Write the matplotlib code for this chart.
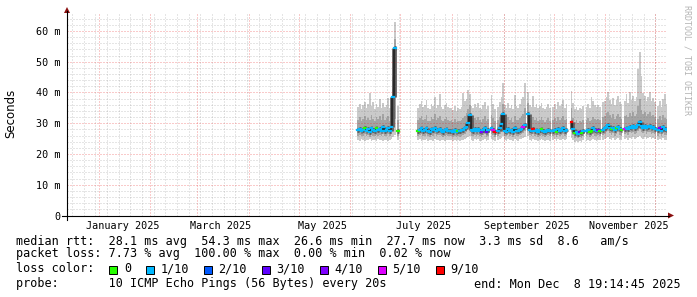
import numpy as np
import pandas as pd
import matplotlib
matplotlib.use("Agg")
import matplotlib.pyplot as plt
import matplotlib.dates as mdates
from matplotlib.collections import LineCollection
from matplotlib.lines import Line2D
from matplotlib.patches import Polygon, Rectangle

# one sample per day from first_day on, None = no data
first_day = "2025-06-06"
end_time = "2025-12-08 19:14:45"
span_days = 360

rtt_median = [
    # jun 6-30
    27.8, 28.2, 27.5, 27.9, 28.4, 27.6, 28.0, 27.3, 28.6, 27.9, 27.4, 28.3, 27.7,
    28.1, 27.5, 28.8, 27.6, 27.9, 28.5, 27.4, 28.9, 38.5, 54.3, None, 27.6,
    # jul
    None, None, None, None, None, None, None, None, None, None, None,
    27.5, 27.9, 28.3, 27.6, 27.8, 28.4, 27.5, 27.2, 28.0, 27.7, 28.5, 27.4, 27.9,
    28.2, 27.6, 27.3, 27.8, 28.1, 27.5, 27.4,
    # aug
    27.6, 27.3, 27.8, 27.2, 27.5, 27.4, 27.7, 27.9, 28.3, 28.9, 30.2, 32.6, 27.8,
    27.4, 28.0, 27.6, 28.2, 27.5, 27.1, 27.9, 28.4, 27.3, 27.8, None, 28.6, 27.9,
    27.2, None, 27.6, 28.3, 29.6,
    # sep
    33.0, 27.6, 27.3, 28.0, 27.5, 27.8, 27.2, 28.3, 27.6, 27.4, 27.9, 28.2, 28.8,
    29.5, None, 33.1, 27.8, 27.4, 28.1, 27.6, 27.9, 27.3, 27.7, 28.0, 27.5, 27.2,
    27.6, 27.9, 27.4, None,
    # oct
    27.5, 27.8, 27.3, 28.1, 27.6, 27.9, 28.4, 27.5, 27.8, None, None, 30.5, 28.0,
    26.9, 27.3, 26.6, 27.2, 26.9, 27.5, None, 27.4, 27.8, 27.2, 27.6, 28.3, 27.7,
    27.4, 27.9, 27.5, None, 27.8,
    # nov
    28.4, 28.9, 29.3, 28.5, 28.0, 28.6, 27.9, 28.3, 28.8, 28.1, 27.7, None, 28.2,
    28.6, 28.0, 28.9, 28.4, 29.1, 28.3, 28.7, 29.4, 30.3, 29.0, 28.6, 29.2, 28.4,
    28.8, 29.0, 28.3, 28.7,
    # dec 1-8
    28.2, None, 27.8, 28.4, 27.6, 28.9, 28.1, 27.7,
]

rtt_min = [
    24.6, 24.3, 24.8, 24.5, 24.2, 24.7, 24.4, 24.9, 24.3, 24.6, 24.5, 24.2, 24.8,
    24.4, 24.6, 24.3, 24.7, 24.5, 24.2, 24.6, 24.8, 25.4, 26.1, None, 24.5,
    None, None, None, None, None, None, None, None, None, None, None,
    24.5, 24.8, 24.3, 24.6, 24.4, 24.9, 24.2, 24.5, 24.7, 24.3, 24.8, 24.4, 24.6,
    24.2, 24.5, 24.7, 24.3, 24.6, 24.4, 24.5,
    24.4, 24.2, 24.6, 24.1, 24.5, 24.3, 24.6, 24.7, 24.9, 25.1, 25.4, 25.9, 24.6,
    24.3, 24.8, 24.4, 24.9, 24.3, 24.1, 24.7, 24.9, 24.2, 24.6, None, 25.0, 24.7,
    24.2, None, 24.5, 24.9, 25.3,
    25.9, 24.6, 24.3, 24.9, 24.4, 24.7, 24.2, 25.0, 24.5, 24.3, 24.8, 24.9, 25.1,
    25.4, None, 25.8, 24.6, 24.3, 24.9, 24.5, 24.7, 24.2, 24.6, 24.8, 24.4, 24.1,
    24.5, 24.7, 24.3, None,
    24.5, 24.8, 24.2, 24.9, 24.4, 24.7, 25.0, 24.5, 24.8, None, None, 25.2, 24.6,
    23.9, 24.2, 23.8, 24.1, 23.9, 24.4, None, 24.3, 24.7, 24.2, 24.5, 24.9, 24.6,
    24.3, 24.7, 24.4, None, 24.6,
    24.9, 25.2, 25.5, 25.0, 24.6, 25.1, 24.5, 24.9, 25.2, 24.7, 24.4, None, 24.8,
    25.1, 24.6, 25.3, 24.9, 25.4, 24.8, 25.1, 25.6, 26.0, 25.3, 25.0, 25.5, 24.9,
    25.2, 25.4, 24.8, 25.1,
    24.8, None, 24.5, 24.9, 24.4, 25.2, 24.7, 24.5,
]

rtt_lo = [
    25.9, 26.2, 25.7, 26.0, 26.4, 25.8, 26.1, 25.6, 26.5, 26.0, 25.7, 26.3, 25.9,
    26.2, 25.8, 26.6, 25.8, 26.0, 26.4, 25.7, 26.5, 30.2, 31.5, None, 25.8,
    None, None, None, None, None, None, None, None, None, None, None,
    25.8, 26.1, 26.4, 25.9, 26.0, 26.5, 25.7, 25.5, 26.2, 25.9, 26.6, 25.7, 26.1,
    26.3, 25.8, 25.6, 26.0, 26.3, 25.8, 25.7,
    25.8, 25.5, 26.0, 25.4, 25.7, 25.6, 25.9, 26.1, 26.5, 27.0, 27.9, 29.4, 26.0,
    25.7, 26.2, 25.9, 26.3, 25.8, 25.4, 26.1, 26.4, 25.6, 26.0, None, 26.6, 26.1,
    25.5, None, 25.9, 26.4, 27.2,
    29.8, 26.0, 25.7, 26.4, 25.8, 26.1, 25.5, 26.6, 25.9, 25.7, 26.2, 26.5, 26.9,
    27.5, None, 30.0, 26.1, 25.8, 26.4, 25.9, 26.2, 25.6, 26.0, 26.3, 25.8, 25.5,
    25.9, 26.2, 25.7, None,
    25.8, 26.1, 25.6, 26.3, 25.9, 26.2, 26.6, 25.8, 26.1, None, None, 27.3, 26.2,
    25.3, 25.6, 25.2, 25.5, 25.3, 25.8, None, 25.7, 26.1, 25.5, 25.9, 26.4, 26.0,
    25.7, 26.1, 25.8, None, 26.1,
    26.6, 27.0, 27.4, 26.7, 26.2, 26.8, 26.0, 26.5, 27.0, 26.3, 26.0, None, 26.5,
    26.9, 26.3, 27.1, 26.7, 27.3, 26.6, 26.9, 27.5, 28.2, 27.2, 26.8, 27.4, 26.6,
    27.0, 27.2, 26.5, 26.9,
    26.4, None, 26.0, 26.5, 25.9, 26.8, 26.3, 26.1,
]

rtt_hi = [
    31.2, 32.0, 30.8, 31.5, 32.4, 30.9, 31.7, 31.1, 32.8, 31.4, 30.7, 32.1, 31.3,
    32.5, 30.9, 33.0, 31.2, 31.6, 32.3, 30.8, 32.6, 41.0, 57.5, None, 31.0,
    None, None, None, None, None, None, None, None, None, None, None,
    31.0, 31.8, 32.4, 31.2, 31.5, 32.6, 30.8, 30.6, 31.9, 31.3, 33.0, 30.9, 31.6,
    32.2, 31.1, 30.7, 31.4, 32.0, 31.0, 30.8,
    30.9, 30.5, 31.3, 30.3, 30.8, 30.6, 31.2, 31.8, 32.5, 33.2, 34.6, 36.0, 31.4,
    30.8, 31.6, 31.0, 31.9, 30.9, 30.5, 31.5, 32.2, 30.7, 31.3, None, 32.6, 31.7,
    30.6, None, 31.1, 32.0, 33.4,
    36.2, 31.4, 30.8, 32.0, 31.0, 31.6, 30.5, 32.5, 31.2, 30.9, 31.8, 32.3, 33.0,
    34.8, None, 36.5, 31.5, 30.9, 32.1, 31.1, 31.7, 30.6, 31.2, 31.9, 30.9, 30.4,
    31.0, 31.6, 30.8, None,
    31.1, 31.6, 30.7, 32.0, 31.2, 31.7, 32.4, 31.0, 31.5, None, None, 35.0, 31.8,
    30.3, 30.9, 30.2, 30.7, 30.4, 31.0, None, 30.9, 31.6, 30.6, 31.2, 32.1, 31.4,
    30.9, 31.5, 31.0, None, 31.9,
    32.4, 33.2, 33.8, 32.6, 31.8, 32.9, 31.5, 32.3, 33.1, 32.0, 31.4, None, 32.2,
    32.8, 31.9, 33.3, 32.5, 33.6, 32.3, 33.0, 35.5, 38.0, 34.4, 32.9, 33.7, 32.4,
    33.0, 33.5, 32.2, 32.8,
    32.0, None, 31.3, 32.2, 31.0, 32.7, 31.8, 31.4,
]

rtt_max = [
    35.2, 36.1, 34.6, 35.8, 37.0, 34.9, 36.4, 39.8, 35.5, 36.8, 34.7, 36.2, 35.4,
    38.0, 35.1, 36.6, 35.3, 35.9, 38.1, 34.8, 36.5, 45.0, 63.0, None, 35.6,
    None, None, None, None, None, None, None, None, None, None, None,
    35.0, 36.3, 37.2, 35.4, 35.9, 37.5, 34.8, 34.6, 36.4, 35.5, 38.6, 34.9, 36.0,
    39.5, 35.3, 34.7, 35.8, 36.7, 35.2, 34.9,
    34.8, 34.3, 35.6, 34.1, 35.0, 34.7, 35.4, 39.9, 37.2, 38.0, 40.8, 39.5, 35.7,
    34.9, 36.1, 35.2, 36.5, 34.9, 34.5, 35.8, 37.0, 34.6, 35.5, None, 39.1, 36.3,
    34.7, None, 35.4, 36.8, 38.6,
    43.0, 35.8, 34.9, 36.7, 35.1, 36.0, 34.6, 39.2, 35.6, 35.0, 36.4, 37.8, 38.5,
    43.2, None, 40.1, 36.0, 35.2, 38.9, 35.4, 36.2, 34.8, 35.6, 36.5, 35.1, 34.5,
    35.3, 36.1, 34.9, None,
    35.3, 36.2, 34.6, 37.0, 35.5, 36.4, 37.6, 35.0, 36.1, None, None, 40.6, 36.5,
    34.6, 35.3, 34.2, 35.0, 34.5, 35.6, None, 35.2, 36.3, 34.8, 38.6, 37.1, 35.9,
    35.2, 36.0, 35.4, None, 36.8,
    37.3, 38.5, 40.2, 37.6, 36.4, 38.1, 36.0, 37.4, 38.9, 36.8, 36.1, None, 37.2,
    39.6, 36.6, 40.2, 37.5, 39.0, 37.3, 38.4, 47.5, 53.0, 45.2, 39.8, 38.7, 37.2,
    38.6, 40.0, 37.1, 38.2,
    37.0, None, 35.6, 37.3, 35.2, 38.0, 39.6, 36.1,
]

# lost pings (out of 10) per day
loss_level = (
    "11110" "111111" "0" "111111111111" "0"                                   # jun
    "11111111111" "0" "1111111111" "111111111"                                 # jul
    "1111" "0" "1111111111111" "4" "11" "3" "111" "5" "9" "1111"               # aug
    "111111111111" "5" "11111" "9" "1111" "0" "111111"                         # sep
    "11" "0" "11111111" "9" "1" "0" "11" "3" "0" "1111" "00" "111" "4" "0" "11"  # oct
    "1111" "0" "11" "0" "11" "0" "1" "5" "11111" "11111" "11111" "11"           # nov
    "11141111"                                                                 # dec
)

loss_labels = ["0", "1/10", "2/10", "3/10", "4/10", "5/10", "9/10"]
loss_keys = [0, 1, 2, 3, 4, 5, 9]
loss_colors = ["#26ff00", "#00b8ff", "#0059ff", "#5e00ff", "#7e00ff", "#dd00ff", "#ff0000"]

month_labels = ["January 2025", "March 2025", "May 2025", "July 2025",
                "September 2025", "November 2025"]
month_label_dates = ["2025-01-16", "2025-03-16", "2025-05-16", "2025-07-16",
                     "2025-09-16", "2025-11-16"]

legend_rows = [
    "median rtt:  28.1 ms avg  54.3 ms max  26.6 ms min  27.7 ms now  3.3 ms sd  8.6   am/s",
    "packet loss: 7.73 % avg  100.00 % max  0.00 % min  0.02 % now",
]
probe_text = "probe:       10 ICMP Echo Pings (56 Bytes) every 20s"
end_text = "end: Mon Dec  8 19:14:45 2025"

n = len(rtt_median)
assert all(len(a) == n for a in (rtt_min, rtt_lo, rtt_hi, rtt_max, loss_level)), \
    [len(a) for a in (rtt_median, rtt_min, rtt_lo, rtt_hi, rtt_max, loss_level)]


def arr(v):
    return np.array([np.nan if a is None else a for a in v], dtype=float)


W, H = 697, 297
MONO = "DejaVu Sans Mono"
FS = 8.5        # legend text
FS_AXIS = 7.3   # tick labels


def fx(px):
    return px / W


def fy(py):
    return 1 - py / H


fig = plt.figure(figsize=(W / 100, H / 100), dpi=100)
fig.patch.set_facecolor("white")
ax = fig.add_axes([fx(67), fy(215.5), fx(667) - fx(67), fy(12.5) - fy(215.5)])
for s in ax.spines.values():
    s.set_visible(False)

days = pd.date_range(first_day, periods=n, freq="D")
x = mdates.date2num(days)
med, lo_out, lo_in, hi_in, hi_out = map(arr, (rtt_median, rtt_min, rtt_lo, rtt_hi, rtt_max))
ok = ~np.isnan(med)

# smoke
ax.bar(x[ok], (hi_out - lo_out)[ok], bottom=lo_out[ok], width=1, align="edge",
       color="#cacaca", linewidth=0, antialiased=False, zorder=2)
ax.bar(x[ok], (hi_in - lo_in)[ok], bottom=lo_in[ok], width=1, align="edge",
       color="#a4a4a4", linewidth=0, antialiased=False, zorder=2)

# median: dark core, thin dark jumps, coloured steps by loss
color_of = dict(zip(loss_keys, loss_colors))
flat, flat_c, jumps = [], [], []
for i in range(n):
    if not ok[i]:
        continue
    if i > 0 and ok[i - 1]:
        jumps.append([(x[i], med[i - 1]), (x[i], med[i])])
    flat.append([(x[i], med[i]), (x[i] + 1, med[i])])
    flat_c.append(color_of[int(loss_level[i])])
ax.add_collection(LineCollection(flat + jumps, colors="#5a5a5a", linewidths=3.4,
                                 capstyle="butt", zorder=3))
ax.add_collection(LineCollection(jumps, colors="#202020", linewidths=1.2,
                                 capstyle="butt", zorder=5))
ax.add_collection(LineCollection(flat, colors=flat_c, linewidths=1.6,
                                 capstyle="projecting", zorder=6))

# limits
t_end = pd.Timestamp(end_time)
t_start = t_end - pd.Timedelta(days=span_days)
ax.set_xlim(mdates.date2num(t_start), mdates.date2num(t_end))
ax.set_ylim(0, 66)

# grid (rrdtool style, dotted, drawn over the smoke)
dot = (0, (1, 2))
minor_c = (0.5, 0.5, 0.5, 0.4)
major_c = (0.9, 0.1, 0.1, 0.45)
x0, x1 = ax.get_xlim()
weeks = mdates.date2num(pd.date_range(t_start, t_end, freq="W-MON"))
months = mdates.date2num(pd.date_range(t_start, t_end, freq="MS"))
yminor = [v for v in range(2, 66, 2) if v % 10]
grid_kw = dict(linewidth=0.72, zorder=4, snap=True)
ax.vlines(weeks, 0, 66, colors=[minor_c], linestyles=[dot], **grid_kw)
ax.hlines(yminor, x0, x1, colors=[minor_c], linestyles=[dot], **grid_kw)
ax.vlines(months, 0, 66, colors=[major_c], linestyles=[dot], **grid_kw)
ax.hlines(range(10, 61, 10), x0, x1, colors=[major_c], linestyles=[dot], **grid_kw)

# ticks
ax.set_xticks(mdates.date2num(pd.to_datetime(month_label_dates)), month_labels)
ax.set_yticks(range(0, 61, 10), ["0"] + [f"{v} m" for v in range(10, 61, 10)])
ax.tick_params(axis="both", length=0, labelsize=FS_AXIS, colors="black")
ax.tick_params(axis="x", pad=4)
ax.tick_params(axis="y", pad=4.5)
for lab in ax.get_xticklabels() + ax.get_yticklabels():
    lab.set_family(MONO)

# axes with arrows
fig.add_artist(Line2D([fx(62), fx(669)], [fy(215.5), fy(215.5)], color="black", lw=0.8))
fig.add_artist(Line2D([fx(67), fx(67)], [fy(219.5), fy(11)], color="black", lw=0.8))
arrow_c = "#8b1010"
fig.add_artist(Polygon([(fx(668), fy(212.5)), (fx(668), fy(218.5)), (fx(674), fy(215.5))],
                       closed=True, transform=fig.transFigure, color=arrow_c, lw=0))
fig.add_artist(Polygon([(fx(64), fy(13)), (fx(70), fy(13)), (fx(67), fy(7))],
                       closed=True, transform=fig.transFigure, color=arrow_c, lw=0))

# labels
fig.text(fx(11), fy(113), "Seconds", rotation=90, ha="center", va="center",
         family="DejaVu Sans", fontsize=FS)
fig.text(fx(687.5), fy(60), "RRDTOOL / TOBI OETIKER", rotation=270, ha="center",
         va="center", family=MONO, fontsize=6, color="#b4b4b4")

# legend
row_y = [241, 254, 269, 284]
for txt, yy in zip(legend_rows, row_y):
    fig.text(fx(16), fy(yy), txt, ha="left", va="center", family=MONO, fontsize=FS)
fig.text(fx(16), fy(row_y[2]), "loss color:", ha="left", va="center", family=MONO,
         fontsize=FS)
char_w = 7.12
px = 109
for lab, col in zip(loss_labels, loss_colors):
    fig.add_artist(Rectangle((fx(px), fy(row_y[2] + 4.5)), 8 / W, 8 / H,
                             transform=fig.transFigure, facecolor=col,
                             edgecolor="black", lw=0.7))
    fig.text(fx(px + 15), fy(row_y[2]), lab, ha="left", va="center", family=MONO,
             fontsize=FS)
    px = px + 15 + len(lab) * char_w + 14.5
fig.text(fx(16), fy(row_y[3]), probe_text, ha="left", va="center", family=MONO,
         fontsize=FS)
fig.text(fx(681), fy(row_y[3]), end_text, ha="right", va="center", family=MONO,
         fontsize=FS)

fig.savefig("out.png", dpi=100, facecolor="white")
